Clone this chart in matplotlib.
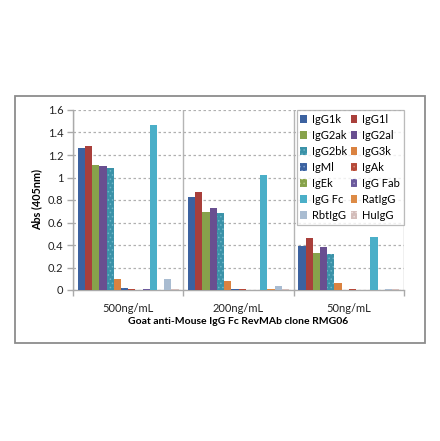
import matplotlib
matplotlib.use("Agg")
import matplotlib.pyplot as plt
import numpy as np
from matplotlib.patches import Rectangle, Patch

plt.rcParams['font.family'] = ['Lato', 'DejaVu Sans']
plt.rcParams['hatch.linewidth'] = 0.6

categories = ["500ng/mL", "200ng/mL", "50ng/mL"]
series = ["IgG1k", "IgG1l", "IgG2ak", "IgG2al", "IgG2bk", "IgG3k", "IgMl",
          "IgAk", "IgEk", "IgG Fab", "IgG Fc", "RatIgG", "RbtIgG", "HuIgG"]
values = {
    "IgG1k":   [1.26, 0.83, 0.39],
    "IgG1l":   [1.283, 0.874, 0.465],
    "IgG2ak":  [1.108, 0.69, 0.33],
    "IgG2al":  [1.10, 0.732, 0.38],
    "IgG2bk":  [1.084, 0.684, 0.323],
    "IgG3k":   [0.10, 0.083, 0.065],
    "IgMl":    [0.015, 0.005, 0.0],
    "IgAk":    [0.005, 0.01, 0.008],
    "IgEk":    [0.0, 0.0, 0.003],
    "IgG Fab": [0.01, 0.0, 0.0],
    "IgG Fc":  [1.464, 1.025, 0.47],
    "RatIgG":  [0.0, 0.005, 0.0],
    "RbtIgG":  [0.10, 0.038, 0.008],
    "HuIgG":   [0.005, 0.01, 0.005],
}
colors = ["#3C62A0", "#A93F3B", "#87A24B", "#694F90", "#3B92A8", "#DA8240",
          "#3C62A0", "#B5493A", "#87A24B", "#6B5A9C", "#4BAFC8", "#DD8B46",
          "#A9BCD1", "#D3BDBA"]
hatch_colors = {4: "#6FB6C8", 6: "#7FA0CF", 7: "#D98A70", 8: "#B8CC86",
                9: "#A89BCB", 13: "#EDE0DE"}

fig = plt.figure(figsize=(4.40, 4.41), dpi=100)
fig.patches.append(Rectangle((15/440, 1-343/441), 410/440, 247/441,
                             transform=fig.transFigure, fill=False,
                             edgecolor="#8C8C8C", linewidth=1.3))

ax = fig.add_axes([73/440, 1-290/441, 331/440, 180/441])
n = len(series)
gap = 0.086
w = (1 - gap) / n
x = np.arange(len(categories))
handles = []
for i, s in enumerate(series):
    pos = x - 0.5 + gap/2 + w*(i + 0.5)
    if i in hatch_colors:
        ax.bar(pos, values[s], width=w, color=colors[i], edgecolor=hatch_colors[i],
               linewidth=0, hatch="....", zorder=3)
        handles.append(Patch(facecolor=colors[i], edgecolor=hatch_colors[i],
                             linewidth=0, hatch="...."))
    else:
        ax.bar(pos, values[s], width=w, color=colors[i], linewidth=0, zorder=3)
        handles.append(Patch(facecolor=colors[i], linewidth=0))

ax.set_xlim(-0.5, 2.5)
ax.set_ylim(0, 1.6)
ax.set_yticks(np.arange(0, 1.61, 0.2))
ax.set_yticklabels(["0", "0.2", "0.4", "0.6", "0.8", "1", "1.2", "1.4", "1.6"])
ax.set_xticks(x)
ax.set_xticklabels(categories)
ax.set_xticks([-0.5, 0.5, 1.5, 2.5], minor=True)
ax.tick_params(axis='x', which='major', length=0, pad=9, labelsize=8, colors="#222222")
ax.tick_params(axis='x', which='minor', length=4, width=1, color="#AAAAAA")
ax.tick_params(axis='y', length=4, width=1, color="#AAAAAA", labelsize=8,
               labelcolor="#222222", pad=3)
ax.grid(axis='y', which='major', linestyle=(0, (2, 2)), color="#B0B0B0", linewidth=0.9, zorder=0)
ax.grid(axis='x', which='minor', linestyle='-', color="#B5B5B5", linewidth=1.0, zorder=0)
for sp in ["top", "right"]:
    ax.spines[sp].set_visible(False)
for sp in ["left", "bottom"]:
    ax.spines[sp].set_color("#AAAAAA")
    ax.spines[sp].set_linewidth(1.0)

ax.set_ylabel("Abs (405nm)", fontsize=7.8, fontweight="bold", labelpad=4)
fig.text((73+404)/2/440, 1-321/441, "Goat anti-Mouse IgG Fc RevMAb clone RMG06",
         ha="center", va="center", fontsize=7.5, fontweight="bold")

order = list(range(0, n, 2)) + list(range(1, n, 2))
leg = ax.legend([handles[k] for k in order], [series[k] for k in order], ncol=2,
                loc="upper right", bbox_to_anchor=(1.0, 1.0), frameon=True,
                fancybox=False, fontsize=8, handlelength=0.6, handleheight=0.6,
                handletextpad=0.45, columnspacing=0.3, labelspacing=0.45,
                borderpad=0.35, borderaxespad=0)
leg.get_frame().set_edgecolor("#AAAAAA")
leg.get_frame().set_linewidth(0.9)
leg.set_zorder(5)

fig.savefig("out.png", dpi=100)
